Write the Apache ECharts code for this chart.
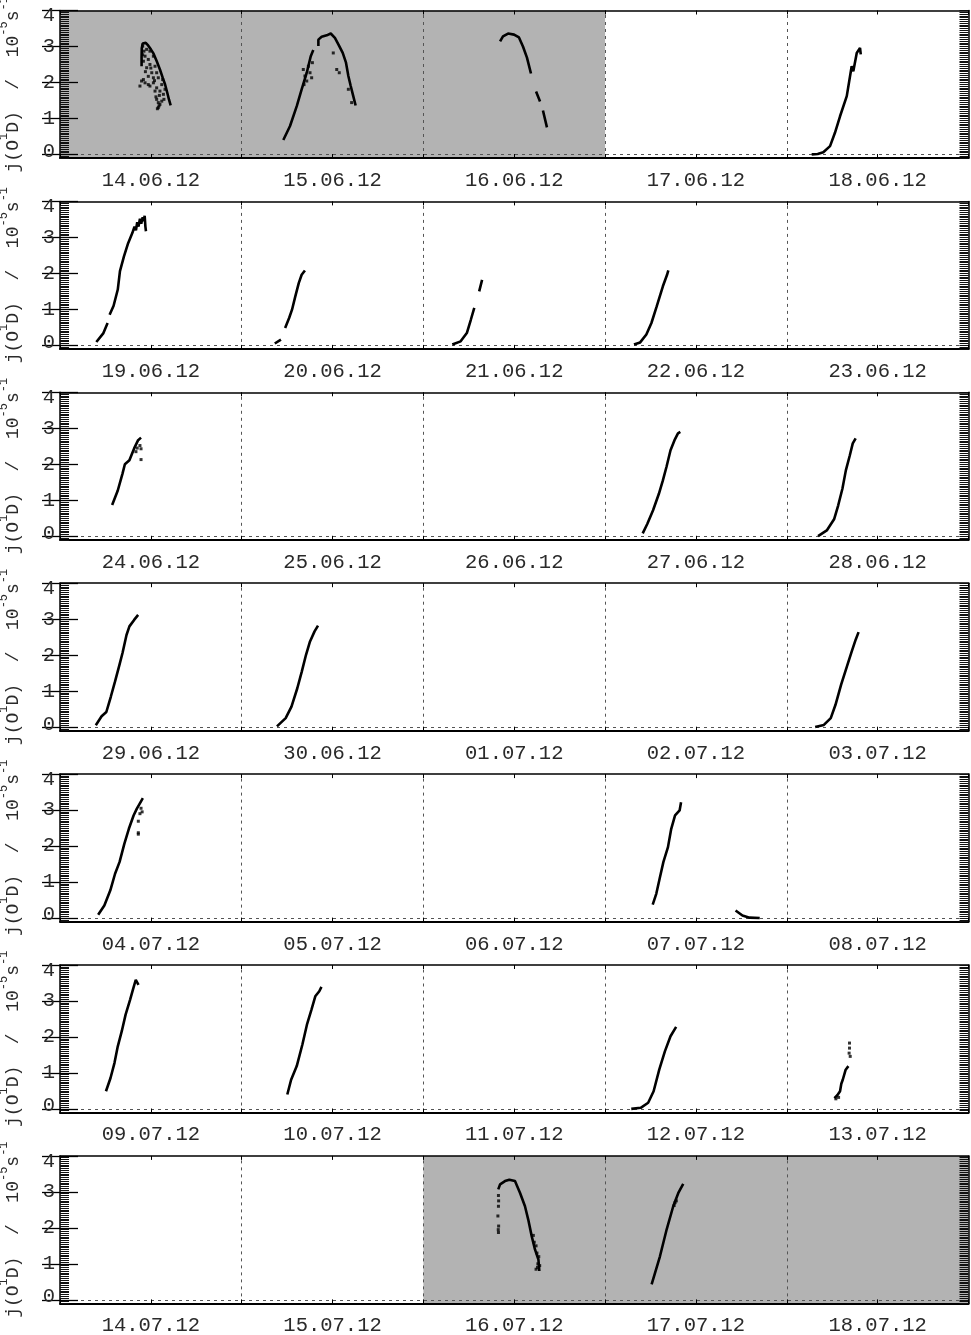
<!DOCTYPE html>
<html>
<head>
<meta charset="utf-8">
<script src="https://cdn.jsdelivr.net/npm/echarts@6/dist/echarts.min.js"></script>
<style>
html,body{margin:0;padding:0;background:#fff;}
#chart{width:971px;height:1335px;}
</style>
</head>
<body>
<div id="chart"></div>
<script>
// ---------- DATA ----------
const panelDates = [
  ['14.06.12','15.06.12','16.06.12','17.06.12','18.06.12'],
  ['19.06.12','20.06.12','21.06.12','22.06.12','23.06.12'],
  ['24.06.12','25.06.12','26.06.12','27.06.12','28.06.12'],
  ['29.06.12','30.06.12','01.07.12','02.07.12','03.07.12'],
  ['04.07.12','05.07.12','06.07.12','07.07.12','08.07.12'],
  ['09.07.12','10.07.12','11.07.12','12.07.12','13.07.12'],
  ['14.07.12','15.07.12','16.07.12','17.07.12','18.07.12']
];
const shadedDays = [[0,3], null, null, null, null, null, [2,5]];
const yTicks = [0,1,2,3,4];
const dayBoundaries = [1,2,3,4];

// x = day position inside the 5-day panel, y = j(O1D) in 1e-5 s^-1 ; null = gap
const trace_140612 = [[0.449,2.45],[0.449,2.70],[0.450,2.95],[0.455,3.08],[0.462,3.12],[0.472,3.10],[0.485,3.03],[0.500,2.92],[0.515,2.80],[0.533,2.58],[0.550,2.36],[0.566,2.12],[0.578,1.95],[0.590,1.72],[0.600,1.52],[0.609,1.36]];
const dots_140612 = [[0.477,2.92],[0.495,2.87],[0.468,2.73],[0.486,2.64],[0.514,2.73],[0.459,2.59],[0.495,2.50],[0.523,2.45],[0.477,2.41],[0.532,2.27],[0.505,2.27],[0.541,2.13],[0.449,2.04],[0.468,1.99],[0.486,1.94],[0.514,1.99],[0.560,1.94],[0.440,1.90],[0.495,1.90],[0.532,1.85],[0.550,1.76],[0.569,1.67],[0.523,1.76],[0.532,1.53],[0.541,1.44],[0.550,1.39],[0.541,1.30],[0.560,1.48],[0.528,1.60],[0.547,1.64],[0.578,1.81],[0.459,2.08],[0.514,2.13],[0.486,2.17],[0.565,2.08],[0.572,1.53],[0.455,3.01],[0.462,2.87],[0.455,2.77],[0.545,1.35],[0.536,1.27],[0.470,2.30],[0.500,2.40],[0.520,2.05]];
const trace_150612 = [[1.229,0.40],[1.266,0.79],[1.303,1.34],[1.330,1.81],[1.358,2.27],[1.380,2.73],[1.394,2.90],null,[1.422,3.01],[1.422,3.19],[1.440,3.27],[1.468,3.31],[1.490,3.36],[1.513,3.24],[1.532,3.06],[1.556,2.82],[1.574,2.55],[1.587,2.18],[1.600,1.90],[1.614,1.62],[1.627,1.36]];
const dots_150612 = [[1.339,2.36],[1.348,2.18],[1.358,2.04],[1.376,2.27],[1.385,2.13],[1.367,2.45],[1.343,1.94],[1.389,2.55],[1.523,2.36],[1.537,2.27],[1.504,2.82],[1.587,1.81],[1.605,1.44]];
const trace_160612 = [[2.422,3.14],[2.438,3.28],[2.466,3.36],[2.499,3.33],[2.526,3.25],[2.548,3.00],[2.570,2.69],[2.592,2.25],null,[2.620,1.75],[2.642,1.47],null,[2.658,1.22],[2.680,0.75]];
const trace_180612 = [[4.137,0.00],[4.170,0.01],[4.201,0.06],[4.238,0.23],[4.265,0.60],[4.293,1.06],[4.330,1.62],[4.357,2.45],[4.366,2.31],[4.385,2.82],[4.403,2.96],[4.407,2.78]];

const trace_190612 = [[0.200,0.09],[0.239,0.34],[0.262,0.62],null,[0.273,0.85],[0.295,1.10],[0.318,1.55],[0.330,2.06],[0.352,2.47],[0.375,2.84],[0.398,3.12],[0.410,3.30],[0.418,3.20],[0.425,3.42],[0.432,3.30],[0.440,3.52],[0.447,3.38],[0.455,3.56],[0.460,3.45],[0.466,3.60],[0.470,3.30],[0.473,3.17]];
const trace_200612 = [[1.182,0.05],[1.216,0.16],null,[1.239,0.48],[1.261,0.76],[1.277,0.99],[1.295,1.36],[1.314,1.73],[1.330,1.96],[1.348,2.08]];
const trace_210612 = [[2.159,0.02],[2.205,0.11],[2.239,0.34],[2.261,0.71],[2.280,1.04],null,[2.307,1.50],[2.323,1.82]];
const trace_220612 = [[3.159,0.02],[3.193,0.08],[3.227,0.30],[3.255,0.62],[3.284,1.08],[3.318,1.64],[3.341,1.96],[3.348,2.08]];

const trace_240612 = [[0.287,0.87],[0.318,1.27],[0.344,1.74],[0.357,2.00],[0.382,2.11],[0.408,2.44],[0.430,2.67],[0.446,2.74]];
const dots_240612 = [[0.446,2.13],[0.446,2.43],[0.440,2.52],[0.425,2.45],[0.418,2.35]];
const trace_270612 = [[3.207,0.08],[3.232,0.34],[3.264,0.72],[3.296,1.18],[3.318,1.55],[3.338,1.93],[3.360,2.39],[3.382,2.67],[3.401,2.86],[3.414,2.90]];
const trace_280612 = [[4.172,0.00],[4.220,0.16],[4.261,0.48],[4.283,0.86],[4.306,1.32],[4.325,1.83],[4.347,2.25],[4.363,2.58],[4.379,2.72]];

const trace_290612 = [[0.197,0.05],[0.229,0.30],[0.255,0.42],[0.280,0.85],[0.303,1.27],[0.325,1.69],[0.344,2.06],[0.366,2.56],[0.382,2.80],[0.408,2.98],[0.430,3.12]];
const trace_300612 = [[1.194,0.02],[1.242,0.25],[1.274,0.57],[1.306,1.08],[1.331,1.55],[1.354,2.01],[1.376,2.38],[1.401,2.66],[1.420,2.82]];
const trace_030712 = [[4.156,0.00],[4.204,0.06],[4.242,0.25],[4.268,0.62],[4.299,1.18],[4.331,1.69],[4.357,2.10],[4.379,2.43],[4.395,2.64]];

const trace_040712 = [[0.210,0.09],[0.244,0.35],[0.277,0.77],[0.303,1.23],[0.328,1.56],[0.354,2.06],[0.379,2.48],[0.405,2.85],[0.423,3.04],[0.449,3.27],[0.456,3.33]];
const dots_040712 = [[0.431,2.69],[0.431,2.37],[0.431,2.33],[0.440,2.90],[0.446,3.05],[0.452,2.95]];
const trace_070712 = [[3.262,0.37],[3.282,0.68],[3.300,1.09],[3.321,1.56],[3.346,1.97],[3.364,2.48],[3.385,2.85],[3.410,2.99],[3.418,3.22]];
const trace_070712_late = [[3.718,0.21],[3.756,0.07],[3.795,0.01],[3.851,0.00]];

const trace_090712 = [[0.253,0.49],[0.278,0.86],[0.300,1.28],[0.318,1.74],[0.340,2.16],[0.361,2.62],[0.386,3.04],[0.401,3.31],[0.417,3.59],[0.432,3.45]];
const trace_100712 = [[1.251,0.40],[1.272,0.81],[1.303,1.19],[1.334,1.79],[1.359,2.34],[1.384,2.76],[1.405,3.13],[1.427,3.27],[1.439,3.39]];
const trace_120712 = [[3.144,0.00],[3.196,0.03],[3.237,0.17],[3.267,0.49],[3.298,1.09],[3.329,1.60],[3.360,2.02],[3.391,2.28]];
const trace_130712 = [[4.262,0.30],[4.262,0.35],[4.278,0.38],[4.293,0.49],[4.300,0.70],[4.308,0.81],[4.324,1.09],[4.339,1.19]];
const dots_130712 = [[4.345,1.83],[4.345,1.69],[4.349,1.46],[4.343,1.55],[4.270,0.28],[4.285,0.32]];

const trace_160712 = [[2.412,3.07],[2.422,3.21],[2.449,3.30],[2.473,3.34],[2.504,3.30],[2.532,2.97],[2.559,2.60],[2.577,2.23],[2.596,1.77],[2.614,1.40],[2.633,1.12],[2.638,0.80]];
const dots_160712 = [[2.413,2.90],[2.414,2.75],[2.413,2.60],[2.410,2.33],[2.414,2.05],[2.412,1.95],[2.413,1.87],[2.605,1.79],[2.610,1.60],[2.620,1.50],[2.625,1.30],[2.630,1.00],[2.628,0.90],[2.640,0.95],[2.620,0.85],[2.635,1.20]];
const trace_170712 = [[3.256,0.43],[3.302,1.21],[3.339,1.96],[3.375,2.60],[3.403,2.97],[3.430,3.22]];
const dots_170712 = [[3.385,2.70],[3.392,2.75],[3.380,2.62]];

const panelTraces = [
  [trace_140612, trace_150612, trace_160612, trace_180612],
  [trace_190612, trace_200612, trace_210612, trace_220612],
  [trace_240612, trace_270612, trace_280612],
  [trace_290612, trace_300612, trace_030712],
  [trace_040712, trace_070712, trace_070712_late],
  [trace_090712, trace_100712, trace_120712, trace_130712],
  [trace_160712, trace_170712]
];
const panelDots = [
  [dots_140612, dots_150612], [], [dots_240612], [], [dots_040712], [dots_130712], [dots_160712, dots_170712]
];

// ---------- LAYOUT / STYLE ----------
const FONT = '"Liberation Mono", "DejaVu Sans Mono", monospace';
const TXT = '#2a2a2a';
const TOP0 = 10.5, STEP = 190.9, GH = 147.5, GL = 60, GR = 2.5;
const Y_MIN = -0.1, Y_MAX = 4;

const grids = [], xAxes = [], yAxes = [], series = [];

panelDates.forEach((dates, i) => {
  grids.push({left: GL, right: GR, top: TOP0 + STEP * i, height: GH,
    containLabel: false, outerBoundsMode: 'none'});
  const xBase = {gridIndex: i, type: 'value', min: 0, max: 5, interval: 0.5, z: 10,
    splitLine: {show: false}};
  xAxes.push(Object.assign({}, xBase, {
    position: 'bottom',
    axisLine: {show: true, onZero: false, lineStyle: {color: '#000', width: 2}},
    axisTick: {show: true, inside: true, length: 4, lineStyle: {color: '#000', width: 1}},
    axisLabel: {show: true, margin: 12, fontFamily: FONT, fontSize: 20.5, color: TXT,
      formatter: v => { const k = v - 0.5; const r = Math.round(k);
        return Math.abs(k - r) < 1e-6 && dates[r] ? dates[r] : ''; }}
  }));
  xAxes.push(Object.assign({}, xBase, {
    position: 'top',
    axisLine: {show: true, onZero: false, lineStyle: {color: '#000', width: 1.5}},
    axisTick: {show: true, inside: true, length: 4, lineStyle: {color: '#000', width: 1}},
    axisLabel: {show: false}
  }));
  const yBase = {gridIndex: i, type: 'value', min: Y_MIN, max: Y_MAX, z: 10, splitLine: {show: false}};
  ['left', 'right'].forEach(pos => {
    yAxes.push(Object.assign({}, yBase, {
      position: pos, interval: 0.05,
      axisLine: {show: true, onZero: false, lineStyle: {color: '#000', width: 1.5}},
      axisTick: {show: true, inside: true, length: 9, lineStyle: {color: '#111', width: 1}},
      axisLabel: {show: false}
    }));
    const major = Object.assign({}, yBase, {
      position: pos,
      axisLine: {show: false},
      axisTick: {show: true, inside: true, length: 18, customValues: yTicks, lineStyle: {color: '#000', width: 1.3}},
      axisLabel: {show: pos === 'left', customValues: yTicks, margin: 5, fontFamily: FONT, fontSize: 20.5, color: TXT,
        formatter: v => v === 4 ? '{t|4}' : (v === 0 ? '{b|0}' : String(v)),
        rich: {
          t: {fontFamily: FONT, fontSize: 20.5, color: TXT, padding: [11, 0, 0, 0]},
          b: {fontFamily: FONT, fontSize: 20.5, color: TXT, padding: [0, 0, 6, 0]}
        }}
    });
    if (pos === 'left') {
      Object.assign(major, {
        name: '{n|j(O}{s|1}{n|D)  /  10}{s|-5}{n|s}{s|-1}',
        nameLocation: 'middle', nameRotate: 90, nameGap: 38,
        nameTextStyle: {fontFamily: FONT, fontSize: 18, color: TXT,
          rich: {
            n: {fontFamily: FONT, fontSize: 18, color: TXT, verticalAlign: 'bottom', lineHeight: 24},
            s: {fontFamily: FONT, fontSize: 12, color: TXT, verticalAlign: 'top', lineHeight: 24}
          }}
      });
    }
    yAxes.push(major);
  });

  const xi = 2 * i, yi = 4 * i;
  if (shadedDays[i]) {
    series.push({type: 'line', xAxisIndex: xi, yAxisIndex: yi, data: [], z: 1, silent: true,
      markArea: {silent: true, itemStyle: {color: '#b3b3b3', opacity: 1},
        data: [[{xAxis: shadedDays[i][0]}, {xAxis: shadedDays[i][1]}]]}});
  }
  series.push({type: 'line', xAxisIndex: xi, yAxisIndex: yi, data: [], z: 2, silent: true,
    markLine: {silent: true, symbol: ['none', 'none'], label: {show: false},
      lineStyle: {type: [3, 4], color: '#555', width: 1},
      data: dayBoundaries.map(d => ({xAxis: d})).concat([{yAxis: 0}])}});
  panelTraces[i].forEach(tr => {
    series.push({type: 'line', xAxisIndex: xi, yAxisIndex: yi, z: 5, silent: true,
      showSymbol: false, symbol: 'none', connectNulls: false,
      lineStyle: {color: '#000', width: 2.6},
      data: tr.map(p => p ? p : [NaN, NaN])});
  });
  panelDots[i].forEach(dt => {
    series.push({type: 'scatter', xAxisIndex: xi, yAxisIndex: yi, z: 5, silent: true,
      symbol: 'rect', symbolSize: 3, itemStyle: {color: '#000'}, data: dt});
  });
});

const chart = echarts.init(document.getElementById('chart'), null, {renderer: 'canvas'});
chart.setOption({animation: false, backgroundColor: '#fff', grid: grids, xAxis: xAxes, yAxis: yAxes, series: series});
</script>
</body>
</html>
